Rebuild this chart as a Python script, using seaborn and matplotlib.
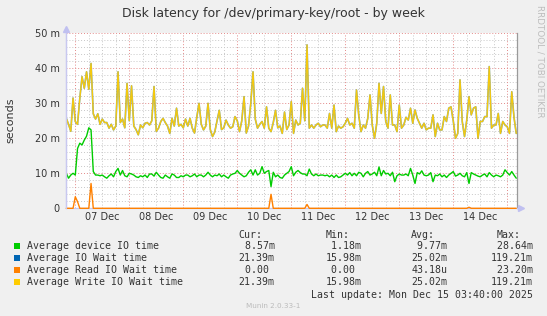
import numpy as np
import matplotlib
matplotlib.use("Agg")
import matplotlib.pyplot as plt
from matplotlib.patches import Rectangle
import seaborn as sns

# ---------------- data ----------------
# hourly samples, hour 0 = 07 Dec 00:00
START_HOUR = -4

device_io_ms = [
    10.0, 8.6, 9.5, 10.0, 9.5, 17.1, 18.6, 18.1, 19.5, 20.6, 23.0, 22.4, 10.5, 9.5, 9.5, 9.3,
    9.5, 9.0, 8.6, 9.3, 9.8, 9.0, 10.5, 11.4, 9.5, 10.8, 9.3, 9.0, 10.0, 9.8, 9.5, 9.0,
    8.8, 9.3, 9.0, 9.5, 8.8, 9.8, 9.8, 9.2, 10.3, 9.5, 8.8, 8.6, 9.5, 9.0, 8.6, 9.8,
    9.5, 8.8, 8.8, 9.3, 9.0, 9.5, 9.5, 9.0, 9.3, 9.8, 9.0, 9.5, 9.5, 9.0, 9.5, 10.3,
    9.5, 9.0, 9.5, 9.3, 9.8, 9.0, 9.5, 9.0, 8.6, 9.5, 9.8, 10.0, 10.8, 10.0, 9.5, 9.0,
    9.3, 10.3, 11.0, 9.5, 11.0, 9.5, 10.0, 11.9, 10.0, 10.5, 10.8, 6.2, 10.3, 9.0, 9.5, 8.8,
    8.6, 9.5, 10.0, 10.5, 11.9, 9.3, 10.3, 10.8, 10.2, 9.8, 9.8, 9.3, 11.2, 9.8, 9.3, 9.8,
    9.3, 9.5, 9.5, 9.3, 9.5, 9.0, 9.5, 8.8, 9.5, 8.8, 9.0, 9.5, 10.0, 9.5, 10.2, 9.3,
    10.0, 9.3, 10.3, 10.0, 9.0, 10.0, 10.5, 9.5, 9.8, 10.3, 9.3, 11.8, 9.3, 10.8, 9.8, 10.0,
    9.3, 10.3, 7.6, 9.3, 9.8, 9.5, 9.5, 9.8, 9.3, 11.4, 9.5, 7.1, 10.2, 9.8, 10.7, 9.5,
    9.3, 9.5, 10.2, 7.6, 9.5, 9.3, 9.8, 9.0, 9.5, 8.8, 9.5, 10.0, 10.5, 9.2, 9.5, 10.0,
    9.3, 9.0, 10.2, 7.1, 10.2, 9.8, 9.5, 9.2, 9.0, 9.5, 9.8, 9.0, 10.2, 9.5, 9.0, 9.5,
    9.3, 9.0, 9.5, 11.0, 10.2, 9.5, 10.5, 9.5, 8.6,
]

write_wait_ms = [
    25.7, 24.0, 22.0, 31.5, 24.8, 24.0, 31.4, 37.6, 34.3, 39.0, 34.0, 41.4, 27.0, 25.5, 27.0, 24.0,
    25.5, 24.5, 24.5, 22.9, 24.0, 22.4, 23.5, 39.0, 24.5, 25.5, 23.0, 35.7, 25.0, 35.0, 23.5, 22.5,
    21.0, 23.8, 23.0, 24.3, 24.5, 23.8, 25.0, 34.8, 22.0, 22.9, 24.8, 25.7, 24.5, 23.5, 21.4, 25.7,
    23.5, 28.6, 23.5, 24.0, 23.0, 25.5, 23.5, 25.7, 22.9, 21.5, 26.0, 30.0, 24.0, 22.4, 23.5, 30.0,
    22.5, 20.5, 21.8, 25.0, 28.0, 22.5, 23.0, 25.2, 23.8, 22.9, 23.3, 26.2, 25.0, 21.9, 25.0, 31.9,
    21.5, 23.5, 30.0, 39.0, 25.5, 22.9, 24.0, 24.8, 22.9, 29.0, 22.9, 21.9, 24.5, 28.0, 23.0, 23.5,
    21.4, 27.5, 22.5, 23.8, 30.5, 21.4, 25.2, 23.8, 24.3, 34.3, 25.0, 46.7, 22.9, 23.8, 22.9, 23.8,
    24.3, 23.3, 23.8, 23.8, 22.9, 27.1, 22.9, 29.5, 21.9, 23.5, 22.9, 23.3, 24.3, 25.7, 23.8, 24.3,
    22.9, 33.8, 26.5, 21.9, 23.8, 22.9, 25.7, 32.4, 23.8, 20.0, 24.3, 35.7, 27.1, 34.8, 24.8, 22.9,
    32.4, 23.8, 23.8, 21.9, 29.5, 22.9, 23.8, 26.0, 25.2, 28.6, 24.3, 28.1, 25.7, 24.3, 22.9, 24.3,
    22.4, 22.9, 22.9, 26.7, 20.5, 24.3, 22.4, 22.4, 26.2, 24.8, 28.6, 29.0, 25.0, 20.0, 21.4, 36.7,
    24.8, 20.5, 25.2, 31.9, 26.7, 28.6, 29.0, 20.0, 24.8, 24.8, 26.2, 26.2, 40.5, 22.9, 23.8, 23.8,
    27.1, 21.4, 24.8, 23.8, 23.3, 21.4, 33.3, 26.0, 21.4,
]

# total IO wait equals the write wait (reads are ~0)
io_wait_ms = list(write_wait_ms)

read_spike_hours = [0, 1, 7, 87, 103, 175]
read_spike_ms = [3.3, 1.9, 7.1, 4.0, 1.1, 0.3]

day_labels = ["07 Dec", "08 Dec", "09 Dec", "10 Dec", "11 Dec", "12 Dec", "13 Dec", "14 Dec"]
y_tick_values = [0, 10, 20, 30, 40, 50]
y_tick_labels = ["0", "10 m", "20 m", "30 m", "40 m", "50 m"]

series_names = ["Average device IO time", "Average IO Wait time",
                "Average Read IO Wait time", "Average Write IO Wait time"]
series_colors = ["#00CC00", "#0066B3", "#FF8000", "#FFCC00"]
cur_vals = [" 8.57m", "21.39m", " 0.00 ", "21.39m"]
min_vals = [" 1.18m", "15.98m", " 0.00 ", "15.98m"]
avg_vals = [" 9.77m", "25.02m", "43.18u", "25.02m"]
max_vals = [" 28.64m", "119.21m", " 23.20m", "119.21m"]

title = "Disk latency for /dev/primary-key/root - by week"
last_update = "Last update: Mon Dec 15 03:40:00 2025"

# ---------------- build series ----------------
hours = np.arange(START_HOUR, START_HOUR + len(write_wait_ms))
read_wait_ms = np.zeros(len(hours))
for h, v in zip(read_spike_hours, read_spike_ms):
    read_wait_ms[h - START_HOUR] = v

# ---------------- figure ----------------
sns.set_style("white")
plt.rcParams["font.family"] = ["DejaVu Sans"]

W, H = 547, 316
BG = "#F0F0F0"
TXT = "#333333"


def fx(x):
    return x / W


def fy(y):
    return 1 - y / H


fig = plt.figure(figsize=(W / 100, H / 100), dpi=100, facecolor=BG)
L, R, T, B = 66.0, 516.7, 33.3, 208.3
ax = fig.add_axes([fx(L), fy(B), (R - L) / W, (B - T) / H])
ax.set_facecolor("white")

x_lo, x_hi = START_HOUR - 0.13, 196.2
ax.set_xlim(x_lo, x_hi)
ax.set_ylim(0, 50)

# grid
dots = (0, (1, 2))
for v in range(2, 50, 2):
    if v % 10:
        ax.axhline(v, color="#C8C8C8", lw=0.7, ls=dots, zorder=0.5)
for v in y_tick_values[1:]:
    ax.axhline(v, color="#E38A8A", lw=0.7, ls=dots, zorder=0.6)
for h in range(0, int(x_hi) + 1, 6):
    if h % 24:
        ax.axvline(h, color="#C8C8C8", lw=0.7, ls=dots, zorder=0.5)
    else:
        ax.axvline(h, color="#E38A8A", lw=0.7, ls=dots, zorder=0.6)

# series (drawing order like munin)
sns.lineplot(x=hours, y=device_io_ms, ax=ax, color=series_colors[0], lw=1.0,
             estimator=None, legend=False, zorder=3)
sns.lineplot(x=hours, y=io_wait_ms, ax=ax, color=series_colors[1], lw=1.2,
             estimator=None, legend=False, zorder=4, alpha=0.6)
sns.lineplot(x=hours, y=read_wait_ms, ax=ax, color=series_colors[2], lw=1.0,
             estimator=None, legend=False, zorder=5)
ax.lines[-1].set_clip_on(False)
sns.lineplot(x=hours, y=write_wait_ms, ax=ax, color=series_colors[3], lw=1.0,
             estimator=None, legend=False, zorder=6, alpha=0.93)

# ticks
ax.set_yticks(y_tick_values)
ax.set_yticklabels(y_tick_labels)
ax.set_xticks([12 + 24 * i for i in range(len(day_labels))])
ax.set_xticklabels(day_labels)
ax.tick_params(axis="both", length=0, labelsize=7, colors=TXT)
ax.tick_params(axis="y", pad=4.5)
ax.tick_params(axis="x", pad=3)
ax.set_xlabel("")
ax.set_ylabel("")

ax.spines["top"].set_visible(False)
ax.spines["left"].set_color("#C8C8F0")
ax.spines["bottom"].set_color("#C8C8F0")
ax.spines["right"].set_color("#9A9A9A")
for s in ["left", "bottom", "right"]:
    ax.spines[s].set_linewidth(0.9)

# axis arrows (munin style)
fig.lines.append(plt.Line2D([fx(L), fx(L)], [fy(B), fy(28)], transform=fig.transFigure,
                            color="#C8C8F0", lw=0.9))
fig.lines.append(plt.Line2D([fx(L)], [fy(28.5)], transform=fig.transFigure, marker="^",
                            markersize=4, color="#C0C0F0", lw=0))
fig.lines.append(plt.Line2D([fx(521)], [fy(B)], transform=fig.transFigure, marker=">",
                            markersize=4, color="#C0C0F0", lw=0))

# texts
fig.text(fx(273.5), fy(13.5), title, ha="center", va="center", fontsize=9, color=TXT)
fig.text(fx(540), fy(5), "RRDTOOL / TOBI OETIKER", rotation=270, ha="center", va="top",
         fontsize=6.3, color="#BDBDBD")
fig.text(fx(10), fy(120), "seconds", rotation=90, ha="center", va="center", fontsize=8,
         color=TXT)

mono = dict(family="DejaVu Sans Mono", fontsize=7.1, color=TXT, va="baseline", ha="left")
fig.text(fx(238.7), fy(237.5), "Cur:", **mono)
fig.text(fx(325.3), fy(237.5), "Min:", **mono)
fig.text(fx(411.3), fy(237.5), "Avg:", **mono)
fig.text(fx(497.0), fy(237.5), "Max:", **mono)

row_base = [249.0, 261.0, 273.0, 285.0]
for i, name in enumerate(series_names):
    yb = row_base[i]
    fig.patches.append(Rectangle((fx(14), fy(yb - 0.5)), 6 / W, 6 / H,
                                 transform=fig.transFigure, facecolor=series_colors[i],
                                 edgecolor="none"))
    fig.text(fx(26.7), fy(yb), name, **mono)
    fig.text(fx(238.7), fy(yb), cur_vals[i], **mono)
    fig.text(fx(325.3), fy(yb), min_vals[i], **mono)
    fig.text(fx(411.3), fy(yb), avg_vals[i], **mono)
    fig.text(fx(491.0), fy(yb), max_vals[i], **mono)

fig.text(fx(311.3), fy(297.5), last_update, **mono)
fig.text(fx(273.0), fy(308), "Munin 2.0.33-1", ha="center", va="baseline", fontsize=5.2,
         color="#BBBBBB")

fig.savefig("out.png", dpi=100, facecolor=BG)
